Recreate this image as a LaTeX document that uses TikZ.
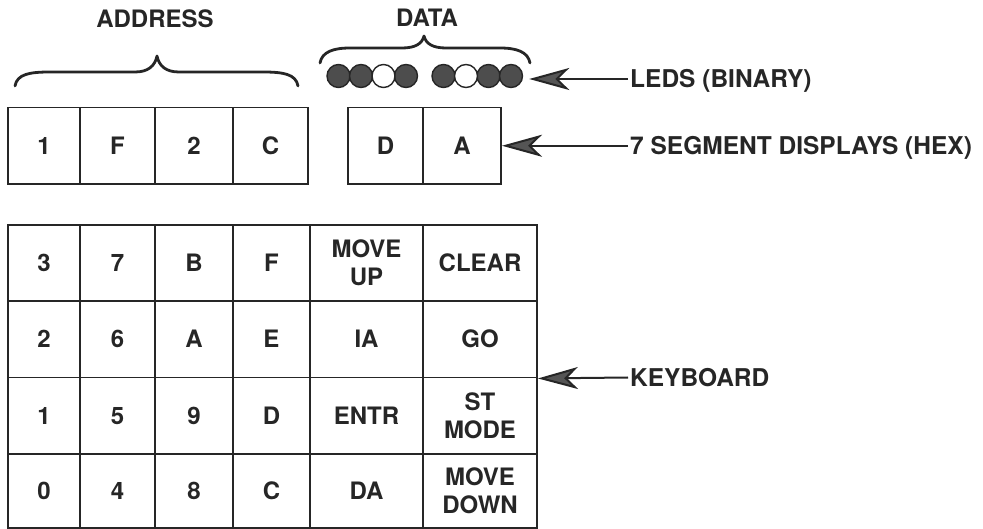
\documentclass[tikz,border=0pt]{standalone}
\usepackage{fontspec}
\setmainfont{TeX Gyre Heros}
\usetikzlibrary{arrows.meta}
\definecolor{ink}{HTML}{262626}
\definecolor{ledgray}{HTML}{4D4D4D}
\definecolor{arrowgray}{HTML}{555555}
\tikzset{
  txt/.style={font=\fontsize{24}{27.5}\selectfont\bfseries, text=ink},
  cell/.style={txt, draw=ink, line width=1.9pt, inner sep=0pt, align=center},
  label/.style={txt, font=\fontsize{24.5}{27.5}\selectfont\bfseries, anchor=west, inner sep=2pt, text height=17pt, text depth=0pt},
  title/.style={txt, inner sep=0pt, text height=17pt, text depth=0pt},
  led/.style={circle, draw=ink, line width=1.4pt, fill=ledgray, minimum size=23pt, inner sep=0pt},
  ledoff/.style={led, fill=white},
  bracestroke/.style={draw=ink, line width=2.8pt, line cap=round, line join=round},
  arr/.style={draw=ink, line width=2pt, -{Stealth[length=40pt,width=22pt,inset=11pt,fill=arrowgray]}}
}
\begin{document}
\begin{tikzpicture}[x=1pt,y=-1pt]
\useasboundingbox (0,0) rectangle (983,529);
% titles
\node[title] (taddr) at (155,19.5) {ADDRESS};
\node[title] (tdata) at (427,18.5) {DATA};
% braces
\draw[bracestroke] (15,86) .. controls (17,74) and (30,72) .. (50,72) -- (135,72)
  .. controls (148,72) and (155,66) .. (157,56)
  .. controls (159,66) and (166,72) .. (179,72) -- (263,72)
  .. controls (283,72) and (296,74) .. (298,86);
\draw[bracestroke] (320,63) .. controls (322,52) and (333,48) .. (350,48) -- (402,48)
  .. controls (415,48) and (422,44) .. (424,36)
  .. controls (426,44) and (433,48) .. (446,48) -- (500,48)
  .. controls (517,48) and (528,52) .. (530,63);
% LEDs
\node[led] (l1) at (338.5,76) {};
\node[led] (l2) at (361,76) {};
\node[led] (l4) at (406,76) {};
\node[ledoff] (l3) at (383.5,76) {};
\node[led] (l5) at (443.5,76) {};
\node[led] (l7) at (488.5,76) {};
\node[led] (l8) at (511,76) {};
\node[ledoff] (l6) at (466,76) {};
% address displays
\node[cell, minimum width=72pt, minimum height=76.5pt] (a1) at (44,145.75) {1};
\node[cell, minimum width=75pt, minimum height=76.5pt] (a2) at (117.5,145.75) {F};
\node[cell, minimum width=78pt, minimum height=76.5pt] (a3) at (194,145.75) {2};
\node[cell, minimum width=75pt, minimum height=76.5pt] (a4) at (270.5,145.75) {C};
% data displays
\node[cell, minimum width=75pt, minimum height=76.5pt] (d1) at (385.5,145.75) {D};
\node[cell, minimum width=78pt, minimum height=76.5pt] (d2) at (462,145.75) {A};
% keyboard row 1
\node[cell, minimum width=72pt, minimum height=76pt] (k3) at (44,263) {3};
\node[cell, minimum width=75pt, minimum height=76pt] (k7) at (117.5,263) {7};
\node[cell, minimum width=78pt, minimum height=76pt] (kB) at (194,263) {B};
\node[cell, minimum width=77pt, minimum height=76pt] (kF) at (271.5,263) {F};
\node[cell, minimum width=113pt, minimum height=76pt] (kMU) at (366.5,263) {MOVE\\UP};
\node[cell, minimum width=114pt, minimum height=76pt] (kCL) at (480,263) {CLEAR};
% row 2
\node[cell, minimum width=72pt, minimum height=76.5pt] (k2) at (44,339.25) {2};
\node[cell, minimum width=75pt, minimum height=76.5pt] (k6) at (117.5,339.25) {6};
\node[cell, minimum width=78pt, minimum height=76.5pt] (kA) at (194,339.25) {A};
\node[cell, minimum width=77pt, minimum height=76.5pt] (kE) at (271.5,339.25) {E};
\node[cell, minimum width=113pt, minimum height=76.5pt] (kIA) at (366.5,339.25) {IA};
\node[cell, minimum width=114pt, minimum height=76.5pt] (kGO) at (480,339.25) {GO};
% row 3
\node[cell, minimum width=72pt, minimum height=76.5pt] (k1) at (44,415.75) {1};
\node[cell, minimum width=75pt, minimum height=76.5pt] (k5) at (117.5,415.75) {5};
\node[cell, minimum width=78pt, minimum height=76.5pt] (k9) at (194,415.75) {9};
\node[cell, minimum width=77pt, minimum height=76.5pt] (kD) at (271.5,415.75) {D};
\node[cell, minimum width=113pt, minimum height=76.5pt] (kEN) at (366.5,415.75) {ENTR};
\node[cell, minimum width=114pt, minimum height=76.5pt] (kST) at (480,415.75) {ST\\MODE};
% row 4
\node[cell, minimum width=72pt, minimum height=74pt] (k0) at (44,491) {0};
\node[cell, minimum width=75pt, minimum height=74pt] (k4) at (117.5,491) {4};
\node[cell, minimum width=78pt, minimum height=74pt] (k8) at (194,491) {8};
\node[cell, minimum width=77pt, minimum height=74pt] (kC) at (271.5,491) {C};
\node[cell, minimum width=113pt, minimum height=74pt] (kDA) at (366.5,491) {DA};
\node[cell, minimum width=114pt, minimum height=74pt] (kMD) at (480,491) {MOVE\\DOWN};
% labels
\node[label] (lleds) at (628,79) {LEDS (BINARY)};
\node[label] (lseg) at (628,145.75) {7 SEGMENT DISPLAYS (HEX)};
\node[label] (lkey) at (628,377.5) {KEYBOARD};
% arrows
\draw[arr] (lleds.west) -- ([xshift=6pt]l8.east |- lleds.west);
\draw[arr] (lseg.west) -- (d2.east);
\draw[arr] (lkey.west) -- (kGO.south east);
\end{tikzpicture}
\end{document}
